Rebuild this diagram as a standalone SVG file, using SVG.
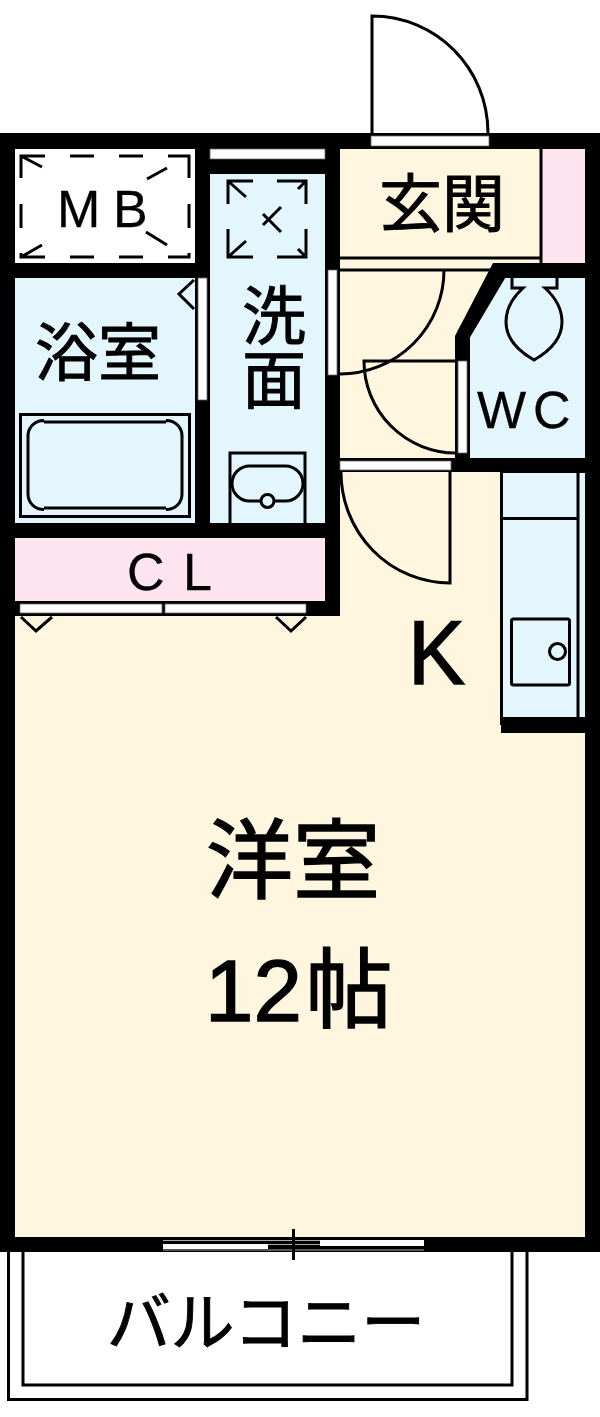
<svg xmlns="http://www.w3.org/2000/svg" width="600" height="1417" viewBox="0 0 600 1417">
<style>
.w{fill:#000}
.s{fill:none;stroke:#000;stroke-width:3}
.win{fill:#fff;stroke:#666;stroke-width:.8}
.cream{fill:#fff6df}
.blue{fill:#e3f6fe}
.pink{fill:#fee4ee}
text{font-family:"Noto Sans CJK JP","Noto Sans",sans-serif;fill:#000;stroke:#000;stroke-width:.9}
.l{font-family:"Liberation Sans",Arial,sans-serif;stroke-width:.3}
.big{stroke-width:1.5}
</style>
<rect width="600" height="1417" fill="#fff"/>
<g id="walls">
<rect class="w" x="0" y="133" width="600" height="1119"/>
</g>
<g id="room-western">
<polygon class="cream" points="15,616 340,616 340,149 540,149 540,263 493,263 455,336 455,458 451,458 451,472 501,472 501,733 585,733 585,1237 15,1237"/>
<rect class="w" x="330" y="133" width="10" height="137"/>
<rect class="w" x="0" y="601" width="340" height="15"/>
</g>
<g id="room-mb">
<rect x="15" y="149" width="180" height="114" fill="#fff"/>
<path class="s" d="M21 178V156H45M70 156H94M119 156H143M168 156H189V178M21 204V228M189 204V228M21 253V257H45M70 257H94M119 257H143M168 257H189V253M21 156L42 167M167 168L147 179M21 257L42 245M167 245L146 232"/>
<text class="l" x="57" y="227" font-size="52">M</text>
<text class="l" x="113" y="227" font-size="52">B</text>
</g>
<g id="room-bath">
<rect class="blue" x="15" y="278" width="180" height="245"/>
<rect class="win" x="198" y="278" width="9" height="122"/>
<path class="s" d="M194 280L179 294L194 309"/>
<text x="98" y="375" font-size="63" text-anchor="middle">浴室</text>
<rect class="s" x="20.500" y="414.500" width="169" height="102"/>
<path class="s" d="M44 420.500C34 420.500 28 428 28 436V494C28 502 34 509.500 44 509.500M166 420.500C176 420.500 182 428 182 436V494C182 502 176 509.500 166 509.500M44 422H166M44 508H166"/>
</g>
<g id="room-wash">
<rect class="blue" x="210" y="174" width="115" height="349"/>
<rect class="win" x="210" y="149" width="115" height="10"/>
<path class="s" d="M228 204V181H253M277 181H306V204M228 229V257H253M277 257H306V229M228 181L246 197M306 181L298 189M228 257L246 241M306 257L298 249M281 207L263 225M263 214L281 232"/>
<text x="274" y="283" font-size="64" writing-mode="vertical-rl">洗面</text>
<path class="s" d="M230 523V453H305V523"/>
<rect class="s" x="232" y="466" width="71" height="35" rx="17.500"/>
<circle class="s" cx="267.500" cy="501" r="6.500" style="fill:#e3f6fe"/>
</g>
<g id="room-closet">
<rect class="pink" x="15" y="538" width="310" height="63"/>
<text class="l" x="127" y="590" font-size="52">C</text>
<text class="l" x="183" y="590" font-size="52">L</text>
<rect class="win" x="20" y="604" width="142" height="9"/>
<rect class="win" x="165" y="604" width="141" height="9"/>
<path class="s" d="M21 617L36 631L52 617M276 617L291 631L306 617"/>
</g>
<g id="room-entrance">
<rect class="pink" x="542" y="149" width="43" height="114"/>
<rect class="win" x="371" y="136" width="118" height="10"/>
<path class="s" d="M372 133V16C436 16 488 68 488 133"/>
<path class="s" d="M340 258H541M541 149V263M340 270H493"/>
<text x="442" y="226" font-size="63" text-anchor="middle">玄関</text>
</g>
<g id="room-wc">
<polygon class="blue" points="505,278 585,278 585,458 470,458 470,337"/>
<polygon class="w" points="493,263 585,263 585,278 505,278 470,337 470,472 451,472 451,458 455,458 455,336 462,336 457,332 493,272"/>
<rect class="win" x="458" y="361" width="9" height="92"/>
<path class="s" d="M512 278V288H523C512 298 506 310 506 322C506 340 520 352 534 360C548 352 562 340 562 322C562 310 556 298 545 288H557V278"/>
<text class="l" x="477" y="428" font-size="52">W</text>
<text class="l" x="533" y="428" font-size="52">C</text>
</g>
<g id="room-kitchen">
<rect class="blue" x="503" y="473" width="82" height="244"/>
<rect class="w" x="500" y="472" width="3" height="253"/>
<rect class="w" x="501" y="717" width="84" height="16"/>
<path class="s" d="M503 518.500H578M578 473V717"/>
<rect class="s" x="511.500" y="619" width="58" height="66" rx="2"/>
<circle class="s" cx="557.500" cy="651.500" r="8"/>
<text class="l big" x="408" y="684" font-size="91" textLength="57" lengthAdjust="spacingAndGlyphs">K</text>
</g>
<g id="connectors">
<rect class="win" x="328" y="270" width="9" height="105"/>
<path class="s" d="M444 270A104 104 0 0 1 340 374"/>
<path class="s" d="M456 361H364A92 92 0 0 0 456 453"/>
<rect class="w" x="330" y="458" width="121" height="14"/>
<rect class="win" x="340" y="461" width="111" height="9"/>
<path class="s" d="M450 472V583A109 111 0 0 1 341 472"/>
</g>
<g id="room-main-label">
<text class="big" x="293" y="892" font-size="87" text-anchor="middle">洋室</text>
<text class="l big" x="205" y="1021" font-size="87">12</text>
<text class="big" x="349" y="1021" font-size="87" text-anchor="middle">帖</text>
</g>
<g id="balcony">
<path class="s" d="M8.500 1252V1399.500H527V1252"/>
<path class="s" d="M23 1252V1385H512V1252"/>
<path fill="none" stroke="#aaa" d="M163 1240.500H424M163 1250H424M268 1244.500H320"/>
<rect x="320" y="1240" width="104" height="6" fill="#fff"/>
<rect x="163" y="1244" width="105" height="5" fill="#fff"/>
<path class="s" d="M293.500 1229V1260"/>
<text x="266" y="1345" font-size="64" text-anchor="middle">バルコニー</text>
</g>
</svg>
